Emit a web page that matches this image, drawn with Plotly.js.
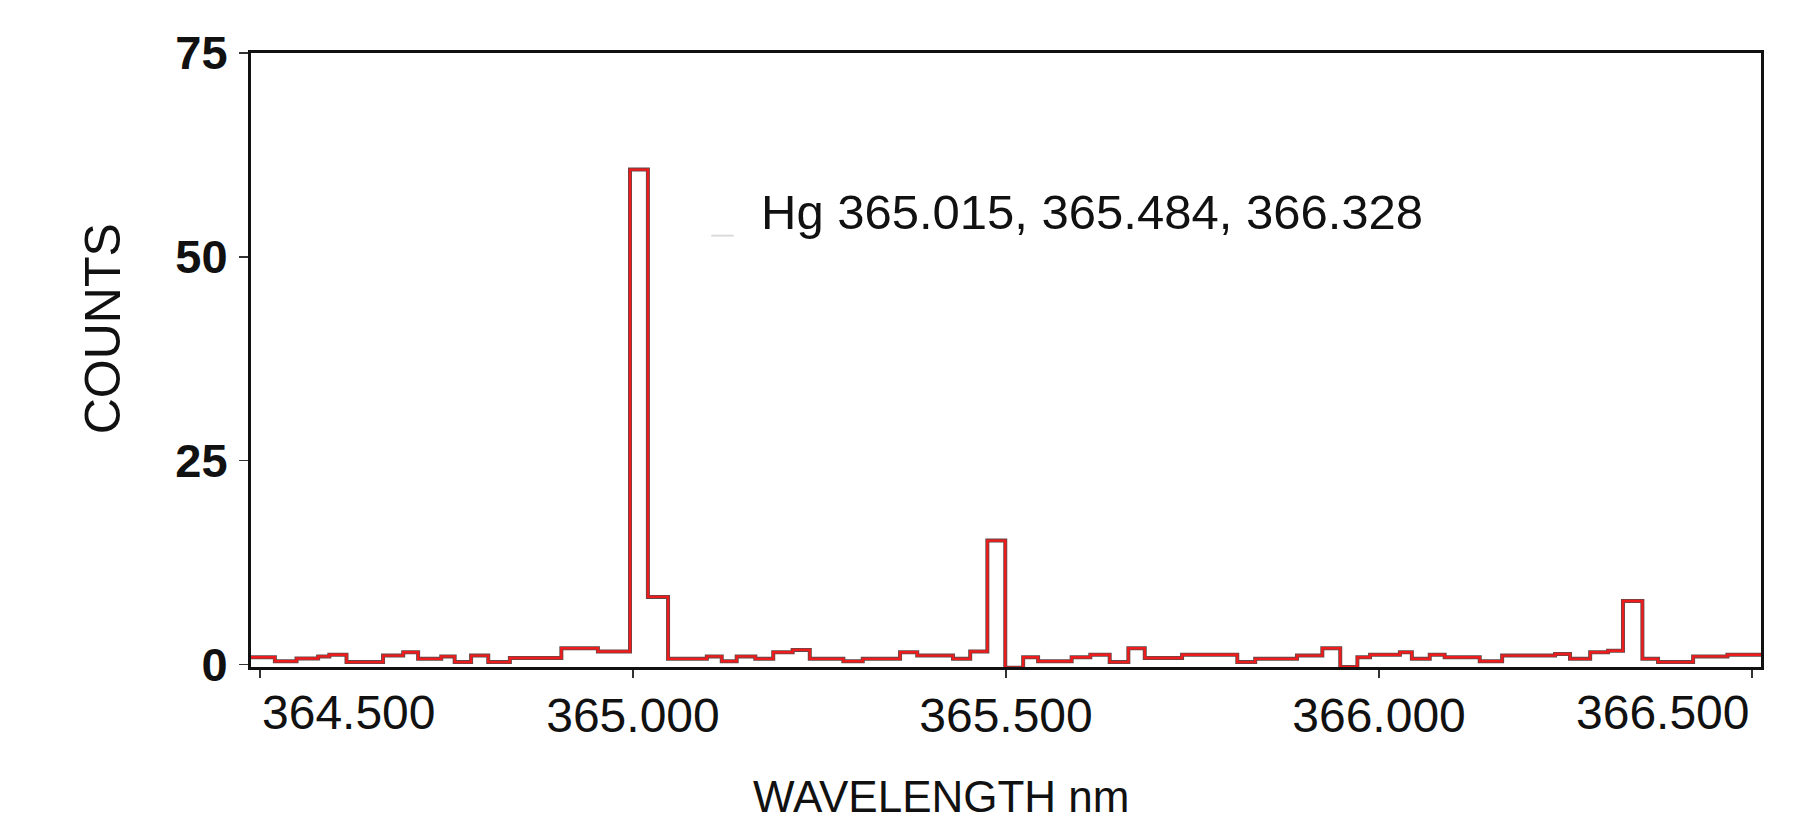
<!DOCTYPE html>
<html>
<head>
<meta charset="utf-8">
<script src="https://cdn.plot.ly/plotly-3.0.1.min.js"></script>
<style>
  html, body { margin: 0; padding: 0; background: #ffffff; }
  #chart { width: 1799px; height: 823px; }
</style>
</head>
<body>
<div id="chart"></div>
<script>
const wavelength = [
  364.488, 364.520, 364.549, 364.578, 364.593, 364.616, 364.665, 364.692, 364.712, 364.743,
  364.761, 364.783, 364.806, 364.835, 364.904, 364.953, 364.996, 365.020, 365.047, 365.099,
  365.119, 365.139, 365.164, 365.188, 365.214, 365.237, 365.282, 365.308, 365.358, 365.381,
  365.429, 365.452, 365.475, 365.499, 365.523, 365.543, 365.588, 365.613, 365.639, 365.664,
  365.686, 365.736, 365.810, 365.834, 365.890, 365.924, 365.948, 365.971, 365.988, 366.028,
  366.044, 366.068, 366.088, 366.135, 366.165, 366.236, 366.256, 366.283, 366.307, 366.327,
  366.353, 366.374, 366.421, 366.467, 366.512
];
const counts = [
  0.9, 0.4, 0.75, 1.0, 1.2, 0.3, 1.1, 1.5, 0.7, 1.0,
  0.3, 1.1, 0.3, 0.8, 2.0, 1.6, 60.7, 8.3, 0.7, 1.0,
  0.4, 1.0, 0.7, 1.5, 1.8, 0.7, 0.4, 0.7, 1.5, 1.1,
  0.7, 1.6, 15.2, -0.4, 0.9, 0.4, 0.9, 1.2, 0.3, 2.0,
  0.8, 1.2, 0.3, 0.7, 1.1, 2.0, -0.3, 0.9, 1.2, 1.5,
  0.7, 1.2, 0.9, 0.4, 1.1, 1.3, 0.7, 1.5, 1.7, 7.8,
  0.7, 0.3, 1.0, 1.2, 1.2
];

const xTickVals = [364.5, 365.0, 365.5, 366.0, 366.5];
const xTickText = ['364.500', '365.000', '365.500', '366.000', '366.500'];
const yTickVals = [0, 25, 50, 75];
const yTickText = ['0', '25', '50', '75'];

const xTitle = 'WAVELENGTH nm';
const yTitle = 'COUNTS';
const lineLabel = 'Hg 365.015, 365.484, 366.328';
const labelPos = {x: 365.169, y: 55.5};

const FONT = '"Liberation Sans", Arial, Helvetica, sans-serif';

const traces = [
  {
    x: wavelength, y: counts, type: 'scatter', mode: 'lines',
    line: {shape: 'hv', color: 'rgba(70,40,40,0.85)', width: 4},
    hoverinfo: 'skip', showlegend: false
  },
  {
    x: wavelength, y: counts, type: 'scatter', mode: 'lines',
    line: {shape: 'hv', color: '#ee1c1c', width: 2.4},
    showlegend: false
  }
];

// middle ticks labelled by the axis; end labels aligned inward like the source
const midText = xTickText.map((t, i) => (i === 0 || i === xTickText.length - 1) ? '' : t);

const tickFont = {family: FONT, size: 48, color: '#111111'};

const layout = {
  width: 1799, height: 823,
  margin: {l: 251, r: 38, t: 53, b: 156, pad: 0},
  paper_bgcolor: '#ffffff', plot_bgcolor: '#ffffff',
  font: {family: FONT, color: '#111111'},
  showlegend: false,
  xaxis: {
    range: [364.488, 366.512],
    tickmode: 'array', tickvals: xTickVals, ticktext: midText,
    ticks: 'outside', ticklen: 8, tickwidth: 1.5, tickcolor: '#333333',
    tickfont: tickFont, ticklabelstandoff: -4,
    showgrid: false, zeroline: false,
    showline: true, linecolor: '#111111', linewidth: 3, mirror: true
  },
  yaxis: {
    range: [-0.3, 75],
    tickmode: 'array', tickvals: yTickVals, ticktext: yTickText,
    ticks: 'outside', ticklen: 9, tickwidth: 1.5, tickcolor: '#333333',
    tickfont: {family: FONT, size: 47, color: '#111111', weight: 'bold'},
    ticklabelstandoff: 2,
    showgrid: false, zeroline: false,
    showline: true, linecolor: '#111111', linewidth: 3, mirror: true
  },
  annotations: [
    {text: xTickText[0], x: xTickVals[0], xref: 'x', y: 0, yref: 'paper',
     xanchor: 'left', yanchor: 'top', yshift: -17, showarrow: false, font: tickFont},
    {text: xTickText[xTickText.length - 1], x: xTickVals[xTickVals.length - 1], xref: 'x', y: 0, yref: 'paper',
     xanchor: 'right', yanchor: 'top', yshift: -17, showarrow: false, font: tickFont},
    {text: lineLabel, x: labelPos.x, y: labelPos.y, xref: 'x', yref: 'y',
     xanchor: 'left', yanchor: 'middle', showarrow: false,
     font: {family: FONT, size: 49, color: '#111111'}},
    {text: yTitle, x: -0.098, y: 0.55, xref: 'paper', yref: 'paper', textangle: -90,
     xanchor: 'center', yanchor: 'middle', showarrow: false,
     font: {family: FONT, size: 50, color: '#111111'}},
    {text: xTitle, x: 0.4576, y: -0.2541, xref: 'paper', yref: 'paper',
     xanchor: 'center', yanchor: 'bottom', showarrow: false,
     font: {family: FONT, size: 44, color: '#111111'}}
  ],
  shapes: [
    {type: 'line', xref: 'x', yref: 'y', x0: 365.105, x1: 365.135, y0: 52.6, y1: 52.6,
     line: {color: 'rgba(150,150,150,0.35)', width: 2}}
  ]
};

Plotly.newPlot('chart', traces, layout, {displayModeBar: false, staticPlot: true});
</script>
</body>
</html>
